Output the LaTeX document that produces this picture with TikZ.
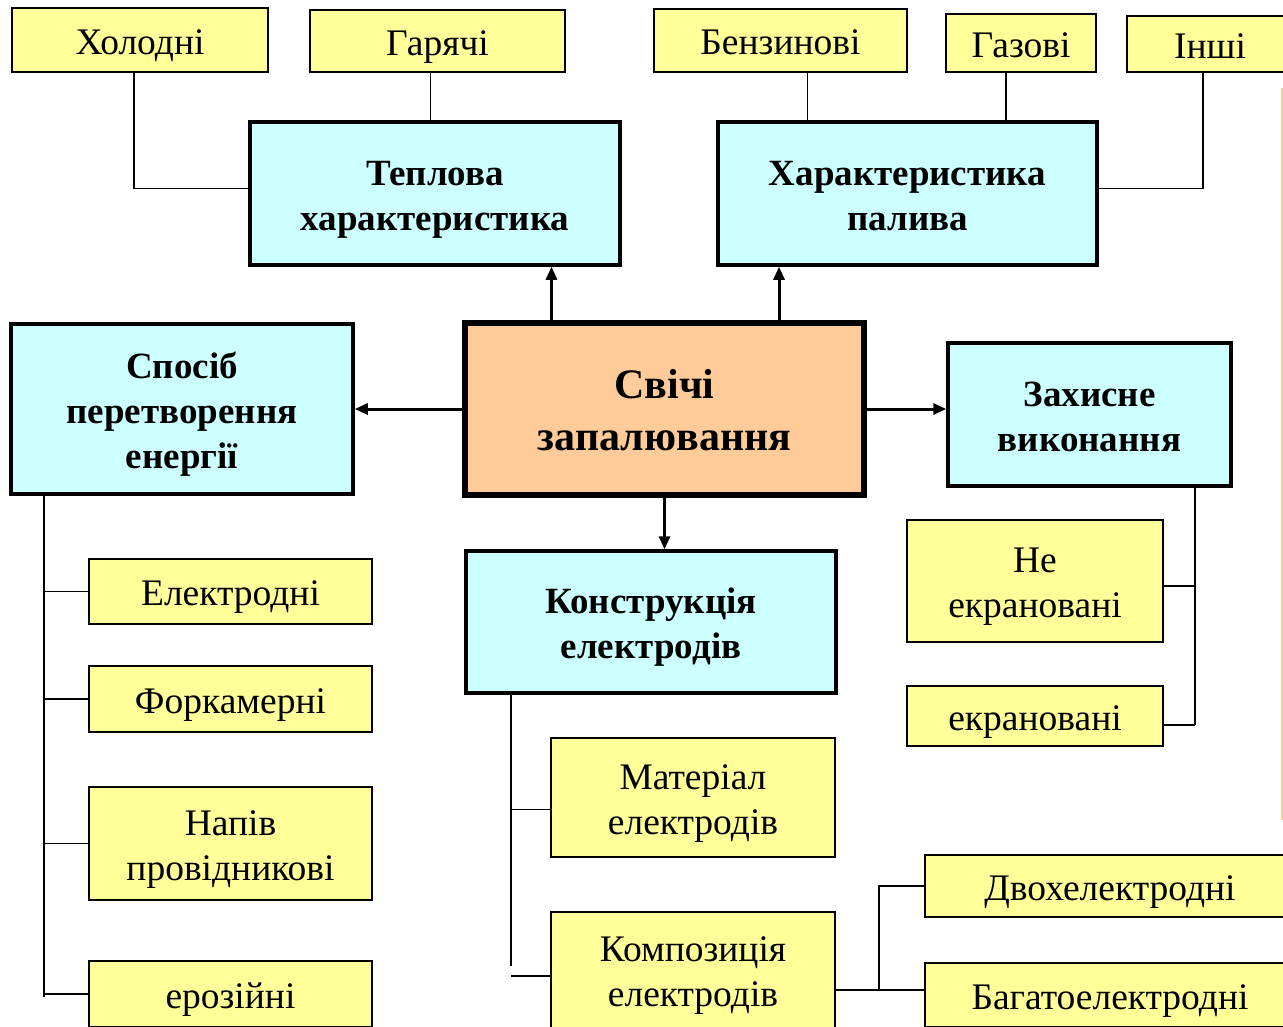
\documentclass[tikz,border=0pt]{standalone}
\usepackage{fontspec}
\setmainfont{Liberation Serif}
\usetikzlibrary{arrows.meta,calc}
\definecolor{ybox}{HTML}{FFFF99}
\definecolor{cbox}{HTML}{CCFFFF}
\definecolor{obox}{HTML}{FFCC99}
\newcommand{\boxtxt}[1]{\raisebox{-5pt}[\height][\depth]{\begin{tabular}{@{}c@{}}#1\end{tabular}}}
\begin{document}
\begin{tikzpicture}[x=1pt,y=-1pt,
  yel/.style={draw=black,fill=ybox,line width=1.8pt,inner sep=0pt,
    font=\fontsize{37.5}{45}\selectfont},
  cyan/.style={draw=black,fill=cbox,line width=3.5pt,inner sep=0pt,
    font=\fontsize{37}{45}\selectfont\bfseries},
  core/.style={draw=black,fill=obox,line width=5.5pt,inner sep=0pt,
    font=\fontsize{42}{52}\selectfont\bfseries},
  link/.style={line width=1.8pt,draw=black},
  arr/.style={line width=3pt,draw=black,-{Triangle[length=13pt,width=11pt]}}]
\clip (0,0) rectangle (1283,1026);
\fill[white] (0,0) rectangle (1283,1026);
% faint remnant line at right edge
\draw[obox,line width=1.5pt] (1282,88) -- (1282,820);

% top yellow boxes
\node[yel,minimum width=256pt,minimum height=64pt] (hol) at (140,40) {\boxtxt{Холодні}};
\node[yel,minimum width=255pt,minimum height=62pt] (gar) at (437.5,41) {\boxtxt{Гарячі}};
\node[yel,minimum width=253pt,minimum height=63pt] (benz) at (780.5,40.5) {\boxtxt{Бензинові}};
\node[yel,minimum width=150pt,minimum height=58pt] (gaz) at (1021,43) {\boxtxt{Газові}};
\node[yel,minimum width=166pt,minimum height=56pt] (insh) at (1210,44) {\boxtxt{Інші}};

% cyan category boxes
\node[cyan,minimum width=370pt,minimum height=143pt] (tep) at (435,193.5) {\boxtxt{Теплова\\характеристика}};
\node[cyan,minimum width=379pt,minimum height=143pt] (pal) at (907.5,193.5) {\boxtxt{Характеристика\\палива}};
\node[cyan,minimum width=342pt,minimum height=170pt] (sp) at (182,409) {\boxtxt{Спосіб\\перетворення\\енергії}};
\node[cyan,minimum width=283pt,minimum height=143pt] (zah) at (1089.5,414.5) {\boxtxt{Захисне\\виконання}};
\node[cyan,minimum width=370pt,minimum height=142pt] (kon) at (651,622) {\boxtxt{Конструкція\\електродів}};

% central box
\node[core,minimum width=399pt,minimum height=172pt] (sv) at (664.5,409) {\boxtxt{Свічі\\запалювання}};

% left column
\node[yel,minimum width=283pt,minimum height=65pt] (el) at (230.5,591.5) {\boxtxt{Електродні}};
\node[yel,minimum width=283pt,minimum height=66pt] (fork) at (230.5,699) {\boxtxt{Форкамерні}};
\node[yel,minimum width=283pt,minimum height=113pt] (nap) at (230.5,843.5) {\boxtxt{Напів\\провідникові}};
\node[yel,minimum width=283pt,minimum height=66pt] (eroz) at (230.5,994) {\boxtxt{ерозійні}};

% right column
\node[yel,minimum width=256pt,minimum height=122pt] (ne) at (1035,581) {\boxtxt{Не\\екрановані}};
\node[yel,minimum width=256pt,minimum height=60pt] (ekr) at (1035,716) {\boxtxt{екрановані}};

% electrode column
\node[yel,minimum width=284pt,minimum height=119pt] (mat) at (693,797.5) {\boxtxt{Матеріал\\електродів}};
\node[yel,minimum width=284pt,minimum height=116pt] (komp) at (693,970) {\boxtxt{Композиція\\електродів}};
\node[yel,minimum width=370pt,minimum height=62pt] (dvo) at (1110,886) {\boxtxt{Двохелектродні}};
\node[yel,minimum width=370pt,minimum height=64pt] (bag) at (1110,995) {\boxtxt{Багатоелектродні}};

% top connectors
\draw[link] ([xshift=-6pt]hol.south) |- ([yshift=5pt]tep.west);
\draw[link] ([xshift=-7pt]gar.south) -- ([xshift=-7pt]gar.south |- tep.north);
\draw[link] ([xshift=27pt]benz.south) -- ([xshift=27pt]benz.south |- pal.north);
\draw[link] ([xshift=-15pt]gaz.south) -- ([xshift=-15pt]gaz.south |- pal.north);
\draw[link] ([xshift=-7pt]insh.south) |- ([yshift=5pt]pal.east);

% arrows from centre
\draw[arr] ([xshift=-113pt]sv.north) -- ([xshift=-113pt]sv.north |- tep.south);
\draw[arr] ([xshift=114.5pt]sv.north) -- ([xshift=114.5pt]sv.north |- pal.south);
\draw[arr] (sv.west) -- (sv.west -| sp.east);
\draw[arr] (sv.east) -- (sv.east -| zah.west);
\draw[arr] (sv.south) -- (sv.south |- kon.north);

% left tree
\coordinate (spbus) at ([xshift=-138pt]sp.south);
\draw[link] (spbus) -- ([yshift=-3pt]spbus |- eroz.west);
\draw[link] (el.west) -- (el.west -| spbus);
\draw[link] (fork.west) -- (fork.west -| spbus);
\draw[link] (nap.west) -- (nap.west -| spbus);
\draw[link] (eroz.west) -- (eroz.west -| spbus);

% electrode tree
\coordinate (kbus) at ([xshift=-140pt]kon.south);
\draw[link] (kbus) -- ([yshift=4pt]kbus |- komp.west);
\draw[link] ([yshift=-12pt]mat.west) -- ([yshift=-12pt]mat.west -| kbus);
\draw[link] ([yshift=-6pt]komp.west) -- ([yshift=-6pt]komp.west -| kbus);
\draw[link] ([yshift=5pt]bag.west) -- ([yshift=5pt]bag.west -| komp.east);
\draw[link] (dvo.west) -| ([xshift=-45pt,yshift=5pt]dvo.west |- bag.west);

% protection tree
\coordinate (zbus) at ([xshift=105.5pt]zah.south);
\draw[link] (zbus) -- ([yshift=-9pt]zbus |- ekr.east);
\draw[link] ([yshift=-5pt]ne.east) -- ([yshift=-5pt]ne.east -| zbus);
\draw[link] ([yshift=-9pt]ekr.east) -- ([yshift=-9pt]ekr.east -| zbus);
\end{tikzpicture}
\end{document}
